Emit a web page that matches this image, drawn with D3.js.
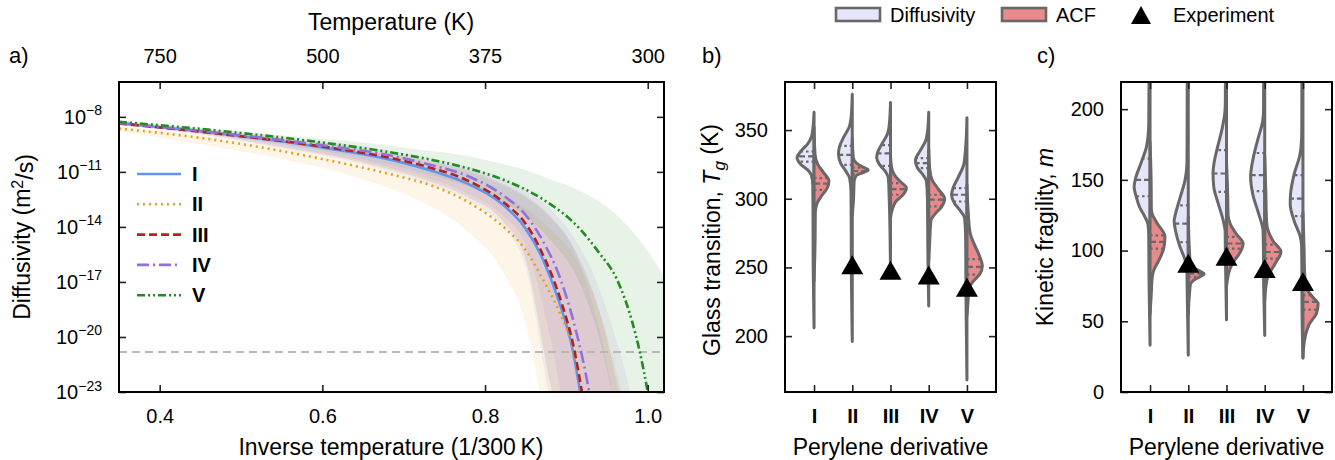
<!DOCTYPE html>
<html>
<head>
<meta charset="utf-8">
<script src="https://cdn.jsdelivr.net/npm/d3@7.9.0/dist/d3.min.js"></script>
<style>
  body { margin: 0; background: #fff; }
  svg { font-family: "Liberation Sans", Arial, sans-serif; }
</style>
</head>
<body>
<svg id="chart" width="1335" height="460"></svg>
<script>
// ---------- data ----------
const derivatives = ['I', 'II', 'III', 'IV', 'V'];

// panel a: log10 diffusivity (m^2/s) against inverse temperature (1/300 K)
const invT_I   = [0.35, 0.462, 0.60, 0.69, 0.735, 0.78, 0.826, 0.849, 0.871, 0.89, 0.908, 0.917, 0.922];
const logD_I   = [-8.36, -8.85, -9.67, -10.4, -10.95, -11.67, -12.95, -14.04, -15.76, -17.95, -20.76, -23, -24.2];
const invT_II  = [0.35, 0.462, 0.60, 0.69, 0.735, 0.78, 0.826, 0.849, 0.871, 0.89, 0.909, 0.919, 0.924];
const logD_II  = [-8.64, -9.22, -10.3, -11.2, -11.76, -12.67, -14.13, -15.2, -16.85, -18.5, -20.8, -23, -24.5];
const invT_III = [0.35, 0.462, 0.60, 0.69, 0.735, 0.78, 0.826, 0.849, 0.871, 0.894, 0.91, 0.919, 0.924];
const logD_III = [-8.36, -8.87, -9.62, -10.3, -10.8, -11.5, -12.77, -13.77, -15.5, -18.13, -20.76, -23, -24.4];
const invT_IV  = [0.35, 0.462, 0.60, 0.69, 0.735, 0.78, 0.826, 0.849, 0.871, 0.894, 0.912, 0.921, 0.928, 0.932];
const logD_IV  = [-8.33, -8.82, -9.55, -10.16, -10.64, -11.25, -12.4, -13.3, -14.76, -17.0, -19.7, -21.4, -23, -24.1];
const invT_V   = [0.35, 0.462, 0.60, 0.69, 0.735, 0.78, 0.826, 0.871, 0.917, 0.94, 0.962, 0.98, 0.99, 1.0, 1.005];
const logD_V   = [-8.27, -8.71, -9.4, -9.98, -10.35, -10.82, -11.49, -12.49, -14.13, -15.4, -16.85, -19.04, -20.76, -23, -24.3];

// uncertainty bands (log10 D) sampled on a shared grid
const bandX      = [0.35, 0.45, 0.55, 0.65, 0.72, 0.78, 0.82, 0.85, 0.88, 0.91, 0.94, 0.97, 1.0, 1.02];
const bandLo_I   = [-8.45, -9.0, -9.7, -10.6, -11.5, -12.6, -13.9, -16.2, -23.5, -29, -34, -38, -42, -45];
const bandHi_I   = [-8.3, -8.7, -9.2, -9.8, -10.4, -11.0, -11.7, -12.4, -13.5, -15.3, -19.5, -26, -31, -35];
const bandLo_II  = [-8.8, -9.5, -10.3, -11.4, -12.6, -14.3, -16.3, -19.3, -26, -32, -37, -41, -44, -47];
const bandHi_II  = [-8.5, -9.0, -9.6, -10.3, -10.95, -11.6, -12.3, -13.0, -14.1, -15.6, -18.5, -23.3, -29, -33];
const bandLo_III = [-8.45, -8.95, -9.65, -10.5, -11.35, -12.4, -13.6, -15.8, -22.5, -28, -33, -37, -41, -44];
const bandHi_III = [-8.3, -8.7, -9.15, -9.7, -10.3, -10.9, -11.6, -12.3, -13.4, -15.2, -18.5, -24, -30, -34];
const bandLo_IV  = [-8.4, -8.9, -9.6, -10.4, -11.2, -12.2, -13.3, -15.0, -20, -27, -32, -36, -40, -43];
const bandHi_IV  = [-8.25, -8.65, -9.1, -9.6, -10.15, -10.7, -11.35, -12.0, -13.0, -14.6, -17.3, -21.5, -27, -31];
const bandLo_V   = [-8.35, -8.9, -9.5, -10.3, -11.0, -11.8, -12.6, -13.4, -14.7, -16.5, -20.0, -26, -32, -36];
const bandHi_V   = [-8.2, -8.6, -9.0, -9.4, -9.8, -10.15, -10.55, -10.9, -11.4, -11.9, -12.6, -13.7, -15.3, -16.7];

const glassLimit = -20.82;   // dashed reference level, log10 D

// panel b: glass transition Tg (K); profiles are [value, density]
const tgDiffusivity = [
  [[363, 0], [352, 1], [345, 2.5], [340, 6], [335, 12], [330, 16], [325, 12.5], [321, 6], [317, 2.5], [310, 1.2], [290, 1], [250, 0.8], [206, 0]],
  [[376, 0], [360, 1], [352, 3], [345, 8], [338, 12], [333, 13], [326, 11], [320, 6], [315, 2.5], [305, 1.2], [280, 1], [240, 0.8], [196, 0]],
  [[370, 0], [355, 1], [347, 3], [340, 8], [334, 12], [330, 13], [325, 10.5], [320, 5], [315, 2], [300, 1.2], [246, 0]],
  [[363, 0], [350, 1], [342, 3], [335, 8], [328, 12.5], [323, 11], [318, 6], [313, 2.2], [300, 1.2], [260, 0.8], [222, 0]],
  [[359, 0], [340, 1], [325, 3], [316, 8], [308, 13], [303, 14.5], [297, 12], [291, 6], [286, 2.2], [270, 1.2], [220, 0.8], [168, 0]]
];
const tgACF = [
  [[352, 0], [332, 1], [325, 3.5], [319, 9], [313, 14], [308, 12.5], [302, 7], [297, 3], [290, 1.2], [270, 1], [240, 0]],
  [[344, 0], [330, 1], [326, 4], [323, 10], [321, 15], [319, 10], [317, 4], [313, 1.8], [300, 1.2], [288, 0]],
  [[332, 0], [322, 1.2], [317, 4], [312, 10], [308, 15], [303, 12], [298, 5], [293, 2], [286, 0]],
  [[336, 0], [320, 1.2], [314, 3], [307, 9], [300, 15], [294, 12], [289, 6], [284, 2], [270, 1], [255, 0]],
  [[310, 0], [290, 1.2], [275, 3], [265, 8], [258, 12], [251, 14.5], [245, 12], [240, 6], [235, 2], [225, 1], [215, 0]]
];
const tgDiffQuartiles = [[334.4, 330.8, 327.1], [338.5, 332, 324.7], [339, 333, 324], [329.6, 326, 322.3], [307.8, 302.9, 298]];
const tgACFQuartiles  = [[315, 311, 306.5], [322.6, 320.2, 317.8], [311.4, 307, 302.9], [302.9, 299.3, 294.4], [256, 250.4, 244.7]];
const tgExperiment    = [null, 252, 248, 244.5, 235.5];

// panel c: kinetic fragility m
const mDiffusivity = [
  [[225, 1], [190, 1.2], [180, 2], [173, 3.5], [162, 8.5], [150, 14], [145, 15], [138, 13], [131, 10], [124, 5], [119, 2], [110, 1.2], [80, 1], [33, 0]],
  [[225, 1], [175, 1.1], [161, 1.3], [150, 3], [138, 7.5], [126, 12], [121, 13.3], [114, 12], [103, 8], [93, 2.8], [88, 1.3], [70, 1], [26, 0]],
  [[225, 1], [205, 1.1], [197, 1.6], [185, 4.5], [173, 8.5], [162, 11.7], [155, 12.7], [145, 12], [133, 7.7], [121, 3], [114, 1.3], [95, 1], [51, 0]],
  [[225, 1], [200, 1.1], [192, 1.8], [180, 6], [166, 10.7], [152, 13.3], [140, 11.3], [126, 5.7], [114, 1.6], [100, 1.2], [75, 1], [40, 0]],
  [[225, 1], [185, 1.1], [175, 1.6], [168, 2.8], [154, 8.3], [140, 11.7], [133, 12], [121, 8.3], [110, 2.6], [104, 1.3], [85, 1], [60, 0.9], [24, 0]]
];
const mACF = [
  [[177, 0], [150, 1], [130, 1.2], [126, 2], [119, 7], [110, 14], [103, 13.3], [93, 8.3], [86, 3.5], [81, 2], [70, 1.2], [55, 0]],
  [[124, 0], [100, 1.1], [92, 1.8], [88, 5], [85, 12], [83.5, 15], [81.5, 11], [79, 5], [76, 2], [70, 1.2], [55, 0]],
  [[163, 0], [140, 1.1], [125, 1.5], [119, 3.5], [112, 9], [105, 15.7], [98, 12.3], [91, 5.7], [84, 2], [80, 1], [75, 0]],
  [[167, 0], [140, 1.1], [125, 1.5], [117, 2.2], [107, 7.7], [99, 15.3], [91, 10], [81, 2.7], [75, 1.2], [65, 0]],
  [[127, 0], [100, 1.1], [85, 1.5], [74, 3], [67, 9.3], [62.5, 14.3], [55.5, 12.7], [48, 6], [41, 2.7], [35, 1.2], [24, 0]]
];
const mDiffQuartiles = [[165, 150, 138.4], [132, 119, 106], [171, 154.5, 141.5], [169, 153.3, 142], [153.3, 136.8, 124.3]];
const mACFQuartiles  = [[110.8, 106.1, 101.4], [85.6, 83.7, 81.4], [109.7, 105, 101.4], [104.2, 99, 94.3], [68.4, 63.7, 58.3]];
const mExperiment    = [null, 91, 96, 87.4, 78.2];

// ---------- setup ----------
const svg = d3.select('#chart');
const FONT = '"Liberation Sans", Arial, sans-serif';
const GRAY = '#686868';
const TITLE = 23;

const xInv  = d3.scaleLinear().domain([0.35, 1.02]).range([119, 664]);
const yDiff = d3.scaleLog().domain([1e-23, Math.pow(10, -6.1)]).range([392, 82]);
const xCatB = d3.scaleLinear().domain([-0.76, 4.76]).range([785, 996]);
const yTg   = d3.scaleLinear().domain([159.3, 385]).range([392, 82]);
const xCatC = d3.scaleLinear().domain([-0.76, 4.76]).range([1121, 1332]);
const yFrag = d3.scaleLinear().domain([0, 219.2]).range([392, 82]);

const defs = svg.append('defs');
function addClip(id, x, y) {
    defs.append('clipPath').attr('id', id)
        .append('rect')
        .attr('x', x.range()[0]).attr('y', y.range()[1])
        .attr('width', x.range()[1] - x.range()[0])
        .attr('height', y.range()[0] - y.range()[1]);
}
addClip('clipA', xInv, yDiff);
addClip('clipB', xCatB, yTg);
addClip('clipC', xCatC, yFrag);

function styleAxis(g) {
    g.select('.domain').remove();
    g.attr('font-family', FONT).attr('font-size', 20);
    g.selectAll('.tick line').attr('stroke', '#222').attr('stroke-width', 1.6);
    g.selectAll('.tick text').attr('fill', '#000');
}

function drawAxes(x, y, opts) {
    const [x0, x1] = x.range();
    const [yb, yt] = y.range();
    const bottom = svg.append('g').attr('transform', `translate(0,${yb})`)
        .call(d3.axisBottom(x).tickValues(opts.xTicks).tickFormat(opts.xFormat).tickSize(-7).tickPadding(17));
    const top = svg.append('g').attr('transform', `translate(0,${yt})`)
        .call(d3.axisTop(x).tickValues(opts.xTicks).tickFormat(opts.topFormat || '').tickSize(-7).tickPadding(19));
    const left = svg.append('g').attr('transform', `translate(${x0},0)`)
        .call(d3.axisLeft(y).tickValues(opts.yTicks).tickFormat(opts.yFormat).tickSize(-7).tickPadding(17));
    const right = svg.append('g').attr('transform', `translate(${x1},0)`)
        .call(d3.axisRight(y).tickValues(opts.yTicks).tickFormat('').tickSize(-7));
    [bottom, top, left, right].forEach(styleAxis);
    svg.append('rect')
        .attr('x', x0).attr('y', yt).attr('width', x1 - x0).attr('height', yb - yt)
        .attr('fill', 'none').attr('stroke', '#000').attr('stroke-width', 2);
    return { bottom, top, left, right };
}

function addText(x, y, str, size, opts = {}) {
    return svg.append('text')
        .attr('x', x).attr('y', y)
        .attr('font-size', size)
        .attr('text-anchor', opts.anchor || 'start')
        .attr('font-weight', opts.weight || 'normal')
        .text(str);
}

// ---------- panel a ----------
const series = [
    { name: 'I',   x: invT_I,   y: logD_I,   lo: bandLo_I,   hi: bandHi_I,   color: '#6495ed', dash: null },
    { name: 'II',  x: invT_II,  y: logD_II,  lo: bandLo_II,  hi: bandHi_II,  color: '#e6a11c', dash: '2,4' },
    { name: 'III', x: invT_III, y: logD_III, lo: bandLo_III, hi: bandHi_III, color: '#b22222', dash: '8,4' },
    { name: 'IV',  x: invT_IV,  y: logD_IV,  lo: bandLo_IV,  hi: bandHi_IV,  color: '#9370db', dash: '12,4,2,4' },
    { name: 'V',   x: invT_V,   y: logD_V,   lo: bandLo_V,   hi: bandHi_V,   color: '#228b22', dash: '8,3,2,3,2,3' }
];

const plotA = svg.append('g').attr('clip-path', 'url(#clipA)');

const band = d3.area()
    .curve(d3.curveMonotoneX)
    .x((d, i) => xInv(bandX[i]))
    .y0(d => yDiff(Math.pow(10, d[0])))
    .y1(d => yDiff(Math.pow(10, d[1])));

series.forEach(s => {
    plotA.append('path')
        .attr('d', band(s.lo.map((v, i) => [v, s.hi[i]])))
        .attr('fill', s.color)
        .attr('fill-opacity', 0.1);
});

plotA.append('line')
    .attr('x1', xInv.range()[0]).attr('x2', xInv.range()[1])
    .attr('y1', yDiff(Math.pow(10, glassLimit))).attr('y2', yDiff(Math.pow(10, glassLimit)))
    .attr('stroke', '#b8b8b8').attr('stroke-width', 2).attr('stroke-dasharray', '8,5');

const curve = d3.line()
    .curve(d3.curveMonotoneX)
    .x(d => xInv(d[0]))
    .y(d => yDiff(Math.pow(10, d[1])));

series.forEach(s => {
    plotA.append('path')
        .attr('d', curve(s.x.map((v, i) => [v, s.y[i]])))
        .attr('fill', 'none')
        .attr('stroke', s.color)
        .attr('stroke-width', 2.6)
        .attr('stroke-dasharray', s.dash);
});

const axA = drawAxes(xInv, yDiff, {
    xTicks: [0.4, 0.6, 0.8, 1.0],
    xFormat: d3.format('.1f'),
    topFormat: d => Math.round(300 / d),
    yTicks: [1e-8, 1e-11, 1e-14, 1e-17, 1e-20, 1e-23],
    yFormat: () => ''
});
axA.left.selectAll('.tick text').each(function(d) {
    const t = d3.select(this);
    t.append('tspan').text('10');
    t.append('tspan').attr('dy', '-0.6em').attr('font-size', 14)
        .text('\u2212' + Math.round(-Math.log10(d)));
});

// legend inside panel a
series.forEach((s, i) => {
    const yy = 174 + i * 30.3;
    svg.append('line')
        .attr('x1', 137).attr('x2', 181).attr('y1', yy).attr('y2', yy)
        .attr('stroke', s.color).attr('stroke-width', 2.6)
        .attr('stroke-dasharray', s.dash);
    addText(192, yy + 7, s.name, 20, { weight: 'bold' });
});

addText(391, 30, 'Temperature (K)', TITLE, { anchor: 'middle' });
addText(391, 455, 'Inverse temperature (1/300\u2009K)', TITLE, { anchor: 'middle' });
addText(9, 63, 'a)', 22);
svg.append('text')
    .attr('transform', 'translate(30,237) rotate(-90)')
    .attr('text-anchor', 'middle').attr('font-size', TITLE)
    .call(t => {
        t.append('tspan').text('Diffusivity (m');
        t.append('tspan').attr('dy', '-0.45em').attr('font-size', 16).text('2');
        t.append('tspan').attr('dy', '0.45em').text('/s)');
    });

// ---------- panels b and c ----------
function widthAt(profile, v) {
    for (let k = 0; k < profile.length - 1; k++) {
        const [v0, d0] = profile[k];
        const [v1, d1] = profile[k + 1];
        if (v <= v0 && v >= v1) return d0 + (d1 - d0) * (v0 - v) / (v0 - v1);
    }
    return 0;
}

function drawViolins(x, y, clipId, diff, acf, diffQ, acfQ, expt) {
    const step = x(1) - x(0);
    const w = d3.scaleLinear().domain([0, 36]).range([0, step]);
    const g = svg.append('g').attr('clip-path', `url(#${clipId})`);
    const qDash = ['2.5,3', '6,3', '2.5,3'];

    derivatives.forEach((name, i) => {
        const cx = x(i);
        const halves = [
            { prof: diff[i], q: diffQ[i], side: -1, fill: '#e6e6fa' },
            { prof: acf[i],  q: acfQ[i],  side: 1,  fill: '#e8898b' }
        ];
        halves.forEach(h => {
            const area = d3.area()
                .curve(d3.curveMonotoneY)
                .y(d => y(d[0]))
                .x0(cx)
                .x1(d => cx + h.side * w(d[1]));
            g.append('path')
                .attr('d', area(h.prof))
                .attr('fill', h.fill)
                .attr('stroke', GRAY)
                .attr('stroke-width', 3)
                .attr('stroke-linejoin', 'round');
            h.q.forEach((qv, k) => {
                g.append('line')
                    .attr('x1', cx).attr('x2', cx + h.side * w(widthAt(h.prof, qv)))
                    .attr('y1', y(qv)).attr('y2', y(qv))
                    .attr('stroke', GRAY).attr('stroke-width', 2.2)
                    .attr('stroke-dasharray', qDash[k]);
            });
        });
    });

    derivatives.forEach((name, i) => {
        if (expt[i] == null) return;
        const cx = x(i), cy = y(expt[i]);
        g.append('path')
            .attr('d', `M${cx},${cy - 9.5}L${cx + 11},${cy + 9.5}L${cx - 11},${cy + 9.5}Z`)
            .attr('fill', '#000');
    });
}

drawViolins(xCatB, yTg, 'clipB', tgDiffusivity, tgACF, tgDiffQuartiles, tgACFQuartiles, tgExperiment);
const axB = drawAxes(xCatB, yTg, {
    xTicks: [0, 1, 2, 3, 4],
    xFormat: i => derivatives[i],
    yTicks: [200, 250, 300, 350],
    yFormat: d3.format('d')
});
axB.bottom.selectAll('.tick text').attr('font-weight', 'bold');

drawViolins(xCatC, yFrag, 'clipC', mDiffusivity, mACF, mDiffQuartiles, mACFQuartiles, mExperiment);
const axC = drawAxes(xCatC, yFrag, {
    xTicks: [0, 1, 2, 3, 4],
    xFormat: i => derivatives[i],
    yTicks: [0, 50, 100, 150, 200],
    yFormat: d3.format('d')
});
axC.bottom.selectAll('.tick text').attr('font-weight', 'bold');

addText(890.5, 455, 'Perylene derivative', TITLE, { anchor: 'middle' });
addText(1226.5, 455, 'Perylene derivative', TITLE, { anchor: 'middle' });
addText(702, 63, 'b)', 22);
addText(1037, 63, 'c)', 22);

svg.append('text')
    .attr('transform', 'translate(720,240) rotate(-90)')
    .attr('text-anchor', 'middle').attr('font-size', TITLE)
    .call(t => {
        t.append('tspan').text('Glass transition,  ');
        t.append('tspan').attr('font-style', 'italic').text('T');
        t.append('tspan').attr('font-style', 'italic').attr('font-size', 17).attr('dy', '0.3em').text('g');
        t.append('tspan').attr('dy', '-0.3em').text(' (K)');
    });

svg.append('text')
    .attr('transform', 'translate(1053,237) rotate(-90)')
    .attr('text-anchor', 'middle').attr('font-size', TITLE)
    .call(t => {
        t.append('tspan').text('Kinetic fragility, ');
        t.append('tspan').attr('font-style', 'italic').text('m');
    });

// ---------- top legend ----------
const legendItems = [
    { label: 'Diffusivity', fill: '#e6e6fa', x: 836 },
    { label: 'ACF', fill: '#e8898b', x: 1002 }
];
legendItems.forEach(d => {
    svg.append('rect')
        .attr('x', d.x).attr('y', 8).attr('width', 44).attr('height', 13)
        .attr('fill', d.fill).attr('stroke', GRAY).attr('stroke-width', 2.6);
    addText(d.x + 54, 22, d.label, 20);
});
svg.append('path')
    .attr('d', 'M1141,6L1151,24L1131,24Z')
    .attr('fill', '#000');
addText(1173, 22, 'Experiment', 20);
</script>
</body>
</html>
